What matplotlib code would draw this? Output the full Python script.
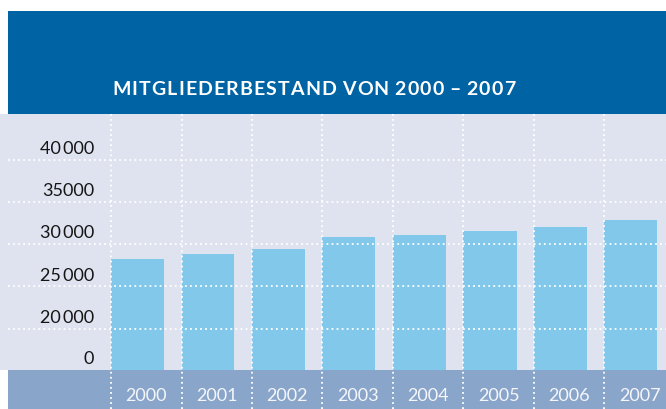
import numpy as np
import matplotlib
matplotlib.use("Agg")
import matplotlib.pyplot as plt
from matplotlib.patches import Rectangle
from matplotlib.font_manager import FontProperties, findfont
from matplotlib.ft2font import FT2Font
import matplotlib.transforms as mtransforms

# ---- data ----
years = ["2000", "2001", "2002", "2003", "2004", "2005", "2006", "2007"]
members = [28250, 28840, 29430, 30850, 31090, 31560, 32040, 32860]
ytick_values = [0, 20000, 25000, 30000, 35000, 40000]
ytick_labels = ["0", "20\u2009000", "25\u2009000", "30\u2009000", "35000", "40\u2009000"]
title = "MITGLIEDERBESTAND VON 2000 \u2013 2007"

# ---- style ----
C_HEADER = "#0063A3"
C_BG = "#DFE2EF"
C_BAR = "#82C8EB"
C_BAND = "#8AA5CA"
W, H, DPI = 666, 410, 100

fig = plt.figure(figsize=(W / DPI, H / DPI), dpi=DPI)
fig.patch.set_facecolor("white")

def px_x(x):
    return x / W

def px_y(y):
    return (H - y) / H

plot_top, plot_bot = 115.0, 370.7
ax = fig.add_axes([0, px_y(plot_bot), 1, (plot_bot - plot_top) / H])
ax.set_facecolor(C_BG)
for s in ax.spines.values():
    s.set_visible(False)

# broken y-axis: 0..20000 compressed into one step
a = 41.0 / 42.25
def fwd(v):
    v = np.asarray(v, dtype=float)
    return np.where(v < 20000, v / 20000 * a, a + (v - 20000) / 5000)
def inv(t):
    t = np.asarray(t, dtype=float)
    return np.where(t < a, t / a * 20000, 20000 + (t - a) * 5000)
ax.set_yscale("function", functions=(fwd, inv))
top_t = (plot_bot - plot_top) / 42.25
ax.set_ylim(0, float(inv(top_t)))

slot = 70.5
x0 = 111.0
ax.set_xlim(-x0 / slot, (W - x0) / slot)

x = np.arange(len(years))
ax.bar(x, members, width=53 / slot, align="edge", color=C_BAR, zorder=2)
ax.set_xticks([])
ax.set_yticks([])

# bottom band
band_h = (H - plot_bot) / (plot_bot - plot_top)
ax.add_patch(Rectangle((8 / W, -band_h), 1 - 8 / W, band_h, transform=ax.transAxes,
                       facecolor=C_BAND, edgecolor="none", clip_on=False, zorder=1))

# gridlines
dot = dict(color="white", linewidth=1.3, linestyle=(0, (1, 1.8)), zorder=3)
for v in ytick_values[1:]:
    ax.axhline(v, xmin=8 / W, xmax=1, **dot)
ax.vlines(x, -band_h, 1, transform=ax.get_xaxis_transform(), clip_on=False, **dot)

# y labels
lab_font = ["Lato", "DejaVu Sans"]
for v, lab in zip(ytick_values, ytick_labels):
    tr = mtransforms.offset_copy(ax.get_yaxis_transform(), fig=fig, y=6.7, units="dots")
    ax.text(94 / W, v, lab, transform=tr, ha="right", va="baseline",
            fontsize=13, color="#151515", family=lab_font)

# year labels
trx = mtransforms.offset_copy(ax.get_xaxis_transform(), fig=fig, y=-30.3, units="dots")
for i, yr in enumerate(years):
    ax.text(i + 0.5, 0, yr, transform=trx, ha="center", va="baseline",
            fontsize=13, color="#F4F6FA", family=lab_font)

# header
fig.add_artist(Rectangle((px_x(8), px_y(plot_top)), 1 - px_x(8), (plot_top - 12) / H,
                         transform=fig.transFigure, facecolor=C_HEADER, edgecolor="none", zorder=-1))

# title with letter spacing (spaces kept narrow)
tsize = 14.0
prop = FontProperties(family="Lato", weight="bold", size=tsize)
ft = FT2Font(findfont(prop))
ft.set_size(tsize, DPI)
adv = []
for ch in title:
    g = ft.load_char(ord(ch))
    a_ = g.linearHoriAdvance / 65536.0
    if ch == " ":
        a_ *= 0.75
    adv.append(a_)
start, end = 112.0, 514.0
natural = sum(adv[:-1]) + adv[-1] * 0.9
track = (end - start - natural) / (len(title) - 1)
xp = start
for ch, ad in zip(title, adv):
    if ch != " ":
        fig.text(px_x(xp), px_y(95.0), ch, fontproperties=prop, color="white",
                 ha="left", va="baseline")
    xp += ad + track

fig.savefig("out.png", dpi=DPI)
